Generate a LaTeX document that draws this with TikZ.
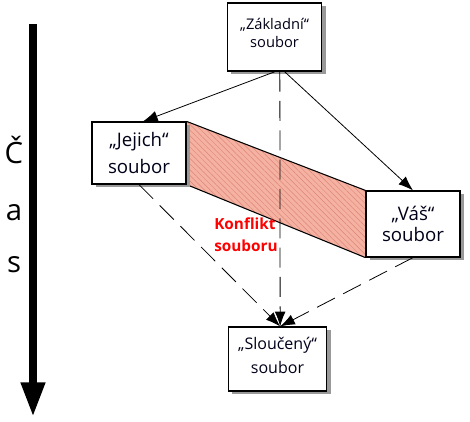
\documentclass[tikz,border=0pt]{standalone}
\usepackage{fontspec}
\setmainfont{Open Sans}
\usetikzlibrary{arrows.meta,shadows,patterns.meta,backgrounds}

\definecolor{konflikt}{RGB}{245,178,162}
\definecolor{konfliktcara}{RGB}{220,134,118}
\definecolor{konfliktpopis}{RGB}{255,0,0}

\tikzset{
  soubor/.style={draw=black, line width=0.9pt, fill=white, align=center,
    inner sep=2pt, text=black!90!blue,
    drop shadow={shadow xshift=3pt, shadow yshift=-2.5pt, fill=black!40, opacity=1}},
  tok/.style={-{Latex[length=11pt,width=8pt]}, line width=0.6pt},
  slouceni/.style={tok, dash pattern=on 15pt off 7pt},
  pismeno/.style={font=\fontsize{22}{26}\selectfont, inner sep=0pt},
}

\begin{document}
\begin{tikzpicture}[x=0.75pt, y=-0.75pt]
\useasboundingbox (0,0) rectangle (470,421);

% casova osa
\coordinate (cas-zacatek) at (33,24);
\coordinate (cas-konec) at (33,417);
\draw[line width=6pt, -{Triangle[length=26pt,width=17pt]}] (cas-zacatek) -- (cas-konec);
\foreach \p/\y [count=\i] in {Č/163,a/220,s/272}
  \node[pismeno, anchor=base] (cas\i) at (14,\y) {\p};

% soubory
\node[soubor, minimum width=71pt, minimum height=51pt, text depth=6pt,
  font=\fontsize{11}{13}\selectfont] (zakladni) at (274.5,37) {„Základní“\\soubor};
\node[soubor, minimum width=70.5pt, minimum height=46.5pt,
  font=\fontsize{14}{20}\selectfont] (jejich) at (139,153) {„Jejich“\\soubor};
\node[soubor, minimum width=70.5pt, minimum height=49.5pt,
  font=\fontsize{14}{16}\selectfont] (vas) at (413,224) {„Váš“\\soubor};
\node[soubor, minimum width=74pt, minimum height=48pt, text depth=6pt,
  font=\fontsize{12}{18}\selectfont] (slouceny) at (277.5,359) {„Sloučený“\\soubor};

% konflikt
\begin{scope}[on background layer]
\fill[konflikt] (jejich.north east) -- (vas.north west) -- (vas.south west) -- (jejich.south east) -- cycle;
\fill[pattern={Lines[angle=-45, distance=3pt, line width=0.35pt]}, pattern color=konfliktcara]
  (jejich.north east) -- (vas.north west) -- (vas.south west) -- (jejich.south east) -- cycle;
\draw[line width=0.8pt] (jejich.north east) -- (vas.north west)
  (jejich.south east) -- (vas.south west);
\end{scope}
\node[anchor=north west, inner sep=0pt, align=left, text=konfliktpopis,
  font=\bfseries\fontsize{11.5}{17}\selectfont] (konfliktnode) at (214,217) {Konflikt\\souboru};

% toky
\draw[tok] ([xshift=0.5pt]zakladni.south) -- ([xshift=3pt]jejich.north);
\draw[tok] ([xshift=7.5pt]zakladni.south) -- (vas.north);
\draw[slouceni] ([xshift=4pt]zakladni.south) -- ([xshift=2pt]slouceny.north);
\draw[slouceni] (jejich.south) -- ([xshift=2pt]slouceny.north);
\draw[slouceni] (vas.south) -- ([xshift=2pt]slouceny.north);
\end{tikzpicture}
\end{document}
